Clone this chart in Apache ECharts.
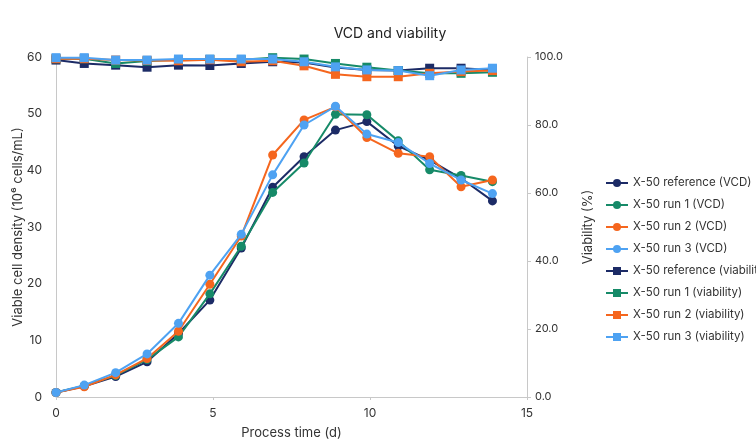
<!DOCTYPE html>
<html>
<head>
<meta charset="utf-8">
<script src="https://cdn.jsdelivr.net/npm/echarts@6/dist/echarts.min.js"></script>
<style>html,body{margin:0;padding:0;background:#fff;}#c{width:756px;height:443px;}</style>
</head>
<body>
<div id="c"></div>
<script>
const days = [0, 0.9, 1.9, 2.9, 3.9, 4.9, 5.9, 6.9, 7.9, 8.9, 9.9, 10.9, 11.9, 12.9, 13.9];
const vcdRef  = [0.8, 1.9, 3.6, 6.2, 11.2, 17.1, 26.3, 37.0, 42.4, 47.1, 48.6, 44.3, 41.8, 38.6, 34.6];
const vcdRun1 = [0.8, 2.0, 3.8, 6.6, 10.6, 18.2, 26.6, 36.1, 41.3, 49.9, 49.8, 45.2, 40.1, 39.1, 38.0];
const vcdRun2 = [0.8, 1.8, 3.9, 6.8, 11.6, 19.9, 28.4, 42.7, 48.9, 51.2, 45.8, 43.0, 42.4, 37.1, 38.3];
const vcdRun3 = [0.8, 2.1, 4.3, 7.6, 13.0, 21.5, 28.7, 39.2, 48.0, 51.3, 46.4, 44.9, 41.2, 38.3, 35.9];
const viaRef  = [99.1, 98.1, 97.6, 97.0, 97.6, 97.5, 98.1, 98.6, 98.4, 96.9, 96.2, 96.0, 96.7, 96.7, 96.2];
const viaRun1 = [99.5, 99.5, 98.1, 98.8, 99.2, 99.3, 99.2, 99.8, 99.4, 98.1, 97.0, 96.0, 95.2, 95.2, 95.5];
const viaRun2 = [99.5, 99.5, 99.1, 99.0, 98.9, 99.2, 98.6, 98.9, 97.4, 94.9, 94.2, 94.2, 95.2, 95.7, 96.0];
const viaRun3 = [99.8, 99.8, 99.1, 99.1, 99.4, 99.4, 99.4, 99.4, 98.6, 97.1, 96.2, 96.0, 94.5, 96.2, 96.7];
const names = ['X-50 reference (VCD)', 'X-50 run 1 (VCD)', 'X-50 run 2 (VCD)', 'X-50 run 3 (VCD)',
               'X-50 reference (viability)', 'X-50 run 1 (viability)', 'X-50 run 2 (viability)', 'X-50 run 3 (viability)'];
const colors = ['#1c2b66', '#168a68', '#f5661e', '#4ea2f2'];

const vcdSets = [vcdRef, vcdRun1, vcdRun2, vcdRun3];
const viaSets = [viaRef, viaRun1, viaRun2, viaRun3];
const pair = arr => days.map((d, i) => [d, arr[i]]);

const series = [];
vcdSets.forEach((arr, i) => series.push({
  name: names[i], type: 'line', yAxisIndex: 0, data: pair(arr),
  symbol: 'circle', symbolSize: 9, color: colors[i],
  lineStyle: {width: 2}, z: 2 + i
}));
viaSets.forEach((arr, i) => series.push({
  name: names[4 + i], type: 'line', yAxisIndex: 1, data: pair(arr),
  symbol: 'rect', symbolSize: 9, color: colors[i],
  lineStyle: {width: 2}, z: 2 + i
}));

const font = 'Inter, "Noto Sans", sans-serif';
const chart = echarts.init(document.getElementById('c'), null, {renderer: 'canvas'});
chart.setOption({
  animation: false,
  backgroundColor: '#fff',
  textStyle: {fontFamily: font},
  title: {
    text: 'VCD and viability', left: 385, top: 22, textAlign: 'center',
    textStyle: {fontFamily: font, fontSize: 14, fontWeight: 'normal', color: '#222'}
  },
  grid: {left: 56, right: 229, top: 57, bottom: 46, containLabel: false, outerBoundsMode: 'none'},
  legend: {
    orient: 'vertical', left: 600, top: 172, itemWidth: 22, itemHeight: 10, itemGap: 10,
    textStyle: {fontFamily: font, fontSize: 11.5, color: '#333'},
    data: names
  },
  xAxis: {
    type: 'value', min: 0, max: 15, interval: 5,
    name: 'Process time (d)', nameLocation: 'middle', nameGap: 30, nameMoveOverlap: false,
    nameTextStyle: {fontFamily: font, fontSize: 13, color: '#333'},
    axisLine: {lineStyle: {color: '#c8c8c8'}},
    axisTick: {show: true, length: 3, lineStyle: {color: '#c8c8c8'}},
    axisLabel: {fontFamily: font, fontSize: 12, color: '#333', margin: 10},
    splitLine: {show: false}
  },
  yAxis: [{
    type: 'value', min: 0, max: 60, interval: 10, position: 'left',
    name: 'Viable cell density (10⁶ cells/mL)', nameLocation: 'middle', nameGap: 31, nameMoveOverlap: false,
    nameTextStyle: {fontFamily: font, fontSize: 13, color: '#333'},
    axisLine: {show: true, lineStyle: {color: '#c8c8c8'}},
    axisTick: {show: false},
    axisLabel: {fontFamily: font, fontSize: 12, color: '#333', margin: 14},
    splitLine: {show: false}
  }, {
    type: 'value', min: 0, max: 100, interval: 20, position: 'right',
    name: 'Viability (%)', nameLocation: 'middle', nameGap: 55, nameMoveOverlap: false,
    nameTextStyle: {fontFamily: font, fontSize: 13, color: '#333'},
    axisLine: {show: true, lineStyle: {color: '#c8c8c8'}},
    axisTick: {show: true, length: 4, lineStyle: {color: '#c8c8c8'}},
    axisLabel: {fontFamily: font, fontSize: 11, color: '#333', margin: 8,
      formatter: v => v.toFixed(1)},
    splitLine: {show: false}
  }],
  series: series
});
</script>
</body>
</html>
